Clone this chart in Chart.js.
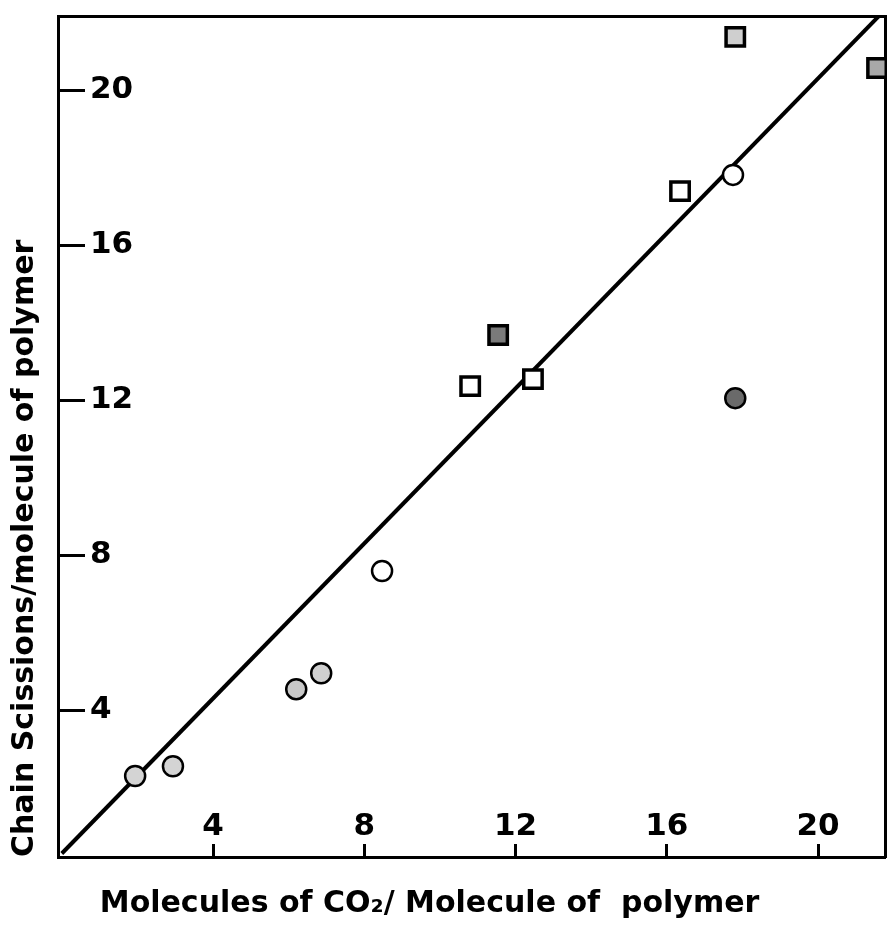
<!DOCTYPE html>
<html>
<head>
<meta charset="utf-8">
<title>Chain scissions vs CO2 molecules</title>
<script src="https://cdn.jsdelivr.net/npm/chart.js@4.4.0/dist/chart.umd.min.js"></script>
<style>
  html, body { margin: 0; padding: 0; background: #fff; }
  canvas { display: block; }
</style>
</head>
<body>
<canvas id="chart" width="888" height="931"></canvas>
<script>
const xTicks = [4, 8, 12, 16, 20];
const yTicks = [4, 8, 12, 16, 20];

// open circles
const openCircleX = [8.47, 17.75];
const openCircleY = [7.59, 17.81];

// stippled (grey) circles
const greyCircleX = [1.94, 2.94, 6.2, 6.86, 17.81];
const greyCircleY = [2.3, 2.55, 4.54, 4.95, 12.05];

// open squares
const openSquareX = [10.8, 12.46, 16.35, 17.81];
const openSquareY = [12.36, 12.54, 17.39, 21.37];

// stippled (grey) squares
const greySquareX = [11.54, 21.56];
const greySquareY = [13.68, 20.57];

// drawn line
const fitX = [0, 22];
const fitY = [0.3, 22.3];

const toPoints = (xs, ys) => xs.map((x, i) => ({ x: x, y: ys[i] }));

const tickFont = { family: "'DejaVu Sans', sans-serif", size: 31, weight: "bold" };
const titleFont = { family: "'DejaVu Sans', sans-serif", size: 30, weight: "bold" };

const ctx = document.getElementById("chart");

new Chart(ctx, {
  type: "scatter",
  data: {
    datasets: [
      {
        label: "open circles",
        data: toPoints(openCircleX, openCircleY),
        pointStyle: "circle",
        pointRadius: 10,
        pointBorderWidth: 2.5,
        pointBorderColor: "#000",
        pointBackgroundColor: "#fff",
      },
      {
        label: "grey circles",
        data: toPoints(greyCircleX, greyCircleY),
        pointStyle: "circle",
        pointRadius: 10,
        pointBorderWidth: 2.5,
        pointBorderColor: "#000",
        pointBackgroundColor: ["#d4d4d4", "#d4d4d4", "#c8c8c8", "#d0d0d0", "#6a6a6a"],
      },
      {
        label: "open squares",
        data: toPoints(openSquareX, openSquareY),
        pointStyle: "rect",
        pointRadius: 13,
        pointBorderWidth: 3.5,
        pointBorderColor: "#000",
        pointBackgroundColor: ["#fff", "#fff", "#fff", "#cfcfcf"],
      },
      {
        label: "grey squares",
        data: toPoints(greySquareX, greySquareY),
        pointStyle: "rect",
        pointRadius: 13,
        pointBorderWidth: 3.5,
        pointBorderColor: "#000",
        pointBackgroundColor: ["#7a7a7a", "#a8a8a8"],
      },
      {
        label: "line",
        data: toPoints(fitX, fitY),
        showLine: true,
        borderColor: "#000",
        borderWidth: 4,
        pointRadius: 0,
        fill: false,
      },
    ],
  },
  options: {
    responsive: false,
    animation: false,
    events: [],
    layout: {
      autoPadding: false,
      padding: { top: 16, right: 3, left: 0, bottom: 0 },
    },
    plugins: {
      legend: { display: false },
      tooltip: { enabled: false },
    },
    scales: {
      x: {
        type: "linear",
        position: "bottom",
        min: -0.1,
        max: 21.77,
        afterBuildTicks: (scale) => {
          scale.ticks = xTicks.map((v) => ({ value: v }));
        },
        afterFit: (scale) => {
          scale.height = 74;
          scale.paddingLeft = 0;
          scale.paddingRight = 0;
        },
        grid: {
          display: true,
          drawOnChartArea: false,
          drawTicks: true,
          tickLength: -13,
          tickWidth: 3,
          tickColor: "#000",
        },
        border: { display: true, color: "#000", width: 3 },
        ticks: {
          mirror: true,
          padding: 11,
          color: "#000",
          font: tickFont,
          maxRotation: 0,
          autoSkip: false,
        },
        title: {
          display: true,
          text: "    Molecules of CO₂/ Molecule of  polymer",
          align: "start",
          color: "#000",
          font: titleFont,
          padding: { top: 0, bottom: 9 },
        },
      },
      y: {
        type: "linear",
        position: "left",
        min: 0.21,
        max: 21.91,
        afterBuildTicks: (scale) => {
          scale.ticks = yTicks.map((v) => ({ value: v }));
        },
        afterFit: (scale) => {
          scale.width = 58;
          scale.paddingTop = 0;
          scale.paddingBottom = 0;
        },
        grid: {
          display: true,
          drawOnChartArea: false,
          drawTicks: true,
          tickLength: -27,
          tickWidth: 3,
          tickColor: "#000",
        },
        border: { display: true, color: "#000", width: 3 },
        ticks: {
          mirror: true,
          padding: 32,
          color: "#000",
          font: tickFont,
          autoSkip: false,
        },
        title: {
          display: true,
          text: "Chain Scissions/molecule of polymer",
          align: "start",
          color: "#000",
          font: titleFont,
          padding: { top: 7, bottom: 0 },
        },
      },
      xTop: {
        type: "linear",
        position: "top",
        min: -0.1,
        max: 21.77,
        grid: { display: false },
        ticks: { display: false },
        border: { display: true, color: "#000", width: 3 },
        afterFit: (scale) => {
          scale.height = 0;
        },
      },
      yRight: {
        type: "linear",
        position: "right",
        min: 0.21,
        max: 21.91,
        grid: { display: false },
        ticks: { display: false },
        border: { display: true, color: "#000", width: 3 },
        afterFit: (scale) => {
          scale.width = 0;
        },
      },
    },
  },
});
</script>
</body>
</html>
